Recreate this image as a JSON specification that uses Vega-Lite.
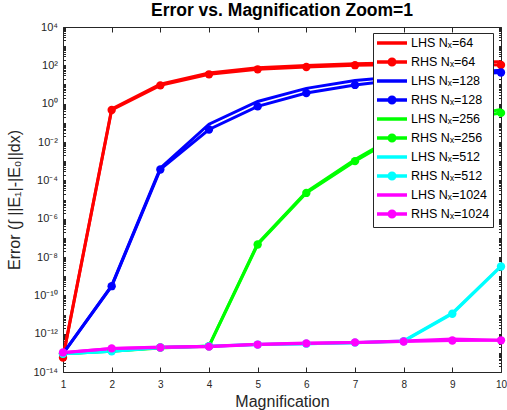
{
  "$schema": "https://vega.github.io/schema/vega-lite/v6.json",
  "width": 438,
  "height": 345,
  "autosize": {"type": "none"},
  "padding": {"left": 63, "top": 27, "right": 6, "bottom": 38},
  "background": "white",
  "title": {"text": "Error vs. Magnification Zoom=1", "font": "Liberation Sans", "fontSize": 17.5, "fontWeight": "bold", "color": "black", "anchor": "middle", "offset": 2},
  "config": {
    "view": {"stroke": "#262626", "strokeWidth": 1},
    "axis": {"grid": false, "domain": false, "labelFont": "Liberation Sans", "titleFont": "Liberation Sans", "labelColor": "#262626", "titleColor": "#262626", "tickColor": "#262626", "titleFontWeight": "normal"}
  },
  "data": {"values": [
    {"mag": 1, "series": "LHS Nₓ=64", "side": "LHS", "err": 6e-14},
    {"mag": 2, "series": "LHS Nₓ=64", "side": "LHS", "err": 0.52},
    {"mag": 3, "series": "LHS Nₓ=64", "side": "LHS", "err": 10.5},
    {"mag": 4, "series": "LHS Nₓ=64", "side": "LHS", "err": 40},
    {"mag": 5, "series": "LHS Nₓ=64", "side": "LHS", "err": 74},
    {"mag": 6, "series": "LHS Nₓ=64", "side": "LHS", "err": 98},
    {"mag": 7, "series": "LHS Nₓ=64", "side": "LHS", "err": 122},
    {"mag": 8, "series": "LHS Nₓ=64", "side": "LHS", "err": 135},
    {"mag": 9, "series": "LHS Nₓ=64", "side": "LHS", "err": 145},
    {"mag": 10, "series": "LHS Nₓ=64", "side": "LHS", "err": 155},
    {"mag": 1, "series": "RHS Nₓ=64", "side": "RHS", "err": 5.6e-14},
    {"mag": 2, "series": "RHS Nₓ=64", "side": "RHS", "err": 0.47},
    {"mag": 3, "series": "RHS Nₓ=64", "side": "RHS", "err": 9.0},
    {"mag": 4, "series": "RHS Nₓ=64", "side": "RHS", "err": 34},
    {"mag": 5, "series": "RHS Nₓ=64", "side": "RHS", "err": 62},
    {"mag": 6, "series": "RHS Nₓ=64", "side": "RHS", "err": 82},
    {"mag": 7, "series": "RHS Nₓ=64", "side": "RHS", "err": 102},
    {"mag": 8, "series": "RHS Nₓ=64", "side": "RHS", "err": 112},
    {"mag": 9, "series": "RHS Nₓ=64", "side": "RHS", "err": 118},
    {"mag": 10, "series": "RHS Nₓ=64", "side": "RHS", "err": 105},
    {"mag": 1, "series": "LHS Nₓ=128", "side": "LHS", "err": 9e-14},
    {"mag": 2, "series": "LHS Nₓ=128", "side": "LHS", "err": 3.2e-10},
    {"mag": 3, "series": "LHS Nₓ=128", "side": "LHS", "err": 4.3e-4},
    {"mag": 4, "series": "LHS Nₓ=128", "side": "LHS", "err": 0.085},
    {"mag": 5, "series": "LHS Nₓ=128", "side": "LHS", "err": 1.3},
    {"mag": 6, "series": "LHS Nₓ=128", "side": "LHS", "err": 6.3},
    {"mag": 7, "series": "LHS Nₓ=128", "side": "LHS", "err": 16},
    {"mag": 8, "series": "LHS Nₓ=128", "side": "LHS", "err": 27},
    {"mag": 9, "series": "LHS Nₓ=128", "side": "LHS", "err": 38},
    {"mag": 10, "series": "LHS Nₓ=128", "side": "LHS", "err": 55},
    {"mag": 1, "series": "RHS Nₓ=128", "side": "RHS", "err": 9e-14},
    {"mag": 2, "series": "RHS Nₓ=128", "side": "RHS", "err": 3.0e-10},
    {"mag": 3, "series": "RHS Nₓ=128", "side": "RHS", "err": 3.7e-4},
    {"mag": 4, "series": "RHS Nₓ=128", "side": "RHS", "err": 0.045},
    {"mag": 5, "series": "RHS Nₓ=128", "side": "RHS", "err": 0.72},
    {"mag": 6, "series": "RHS Nₓ=128", "side": "RHS", "err": 3.6},
    {"mag": 7, "series": "RHS Nₓ=128", "side": "RHS", "err": 9.5},
    {"mag": 8, "series": "RHS Nₓ=128", "side": "RHS", "err": 19},
    {"mag": 9, "series": "RHS Nₓ=128", "side": "RHS", "err": 30},
    {"mag": 10, "series": "RHS Nₓ=128", "side": "RHS", "err": 42},
    {"mag": 1, "series": "LHS Nₓ=256", "side": "LHS", "err": 9e-14},
    {"mag": 2, "series": "LHS Nₓ=256", "side": "LHS", "err": 1.2e-13},
    {"mag": 3, "series": "LHS Nₓ=256", "side": "LHS", "err": 1.8e-13},
    {"mag": 4, "series": "LHS Nₓ=256", "side": "LHS", "err": 2.3e-13},
    {"mag": 5, "series": "LHS Nₓ=256", "side": "LHS", "err": 5e-8},
    {"mag": 6, "series": "LHS Nₓ=256", "side": "LHS", "err": 2.5e-5},
    {"mag": 7, "series": "LHS Nₓ=256", "side": "LHS", "err": 1.2e-3},
    {"mag": 8, "series": "LHS Nₓ=256", "side": "LHS", "err": 0.035},
    {"mag": 9, "series": "LHS Nₓ=256", "side": "LHS", "err": 0.17},
    {"mag": 10, "series": "LHS Nₓ=256", "side": "LHS", "err": 0.5},
    {"mag": 1, "series": "RHS Nₓ=256", "side": "RHS", "err": 9e-14},
    {"mag": 2, "series": "RHS Nₓ=256", "side": "RHS", "err": 1.3e-13},
    {"mag": 3, "series": "RHS Nₓ=256", "side": "RHS", "err": 1.9e-13},
    {"mag": 4, "series": "RHS Nₓ=256", "side": "RHS", "err": 2.2e-13},
    {"mag": 5, "series": "RHS Nₓ=256", "side": "RHS", "err": 4.5e-8},
    {"mag": 6, "series": "RHS Nₓ=256", "side": "RHS", "err": 2.2e-5},
    {"mag": 7, "series": "RHS Nₓ=256", "side": "RHS", "err": 1.0e-3},
    {"mag": 8, "series": "RHS Nₓ=256", "side": "RHS", "err": 0.03},
    {"mag": 9, "series": "RHS Nₓ=256", "side": "RHS", "err": 0.14},
    {"mag": 10, "series": "RHS Nₓ=256", "side": "RHS", "err": 0.33},
    {"mag": 1, "series": "LHS Nₓ=512", "side": "LHS", "err": 9e-14},
    {"mag": 2, "series": "LHS Nₓ=512", "side": "LHS", "err": 1.2e-13},
    {"mag": 3, "series": "LHS Nₓ=512", "side": "LHS", "err": 1.9e-13},
    {"mag": 4, "series": "LHS Nₓ=512", "side": "LHS", "err": 2.2e-13},
    {"mag": 5, "series": "LHS Nₓ=512", "side": "LHS", "err": 2.7e-13},
    {"mag": 6, "series": "LHS Nₓ=512", "side": "LHS", "err": 3.0e-13},
    {"mag": 7, "series": "LHS Nₓ=512", "side": "LHS", "err": 3.4e-13},
    {"mag": 8, "series": "LHS Nₓ=512", "side": "LHS", "err": 4.2e-13},
    {"mag": 9, "series": "LHS Nₓ=512", "side": "LHS", "err": 1.2e-11},
    {"mag": 10, "series": "LHS Nₓ=512", "side": "LHS", "err": 3.4e-9},
    {"mag": 1, "series": "RHS Nₓ=512", "side": "RHS", "err": 9e-14},
    {"mag": 2, "series": "RHS Nₓ=512", "side": "RHS", "err": 1.2e-13},
    {"mag": 3, "series": "RHS Nₓ=512", "side": "RHS", "err": 1.9e-13},
    {"mag": 4, "series": "RHS Nₓ=512", "side": "RHS", "err": 2.2e-13},
    {"mag": 5, "series": "RHS Nₓ=512", "side": "RHS", "err": 2.7e-13},
    {"mag": 6, "series": "RHS Nₓ=512", "side": "RHS", "err": 3.0e-13},
    {"mag": 7, "series": "RHS Nₓ=512", "side": "RHS", "err": 3.4e-13},
    {"mag": 8, "series": "RHS Nₓ=512", "side": "RHS", "err": 4.0e-13},
    {"mag": 9, "series": "RHS Nₓ=512", "side": "RHS", "err": 1.1e-11},
    {"mag": 10, "series": "RHS Nₓ=512", "side": "RHS", "err": 3.2e-9},
    {"mag": 1, "series": "LHS Nₓ=1024", "side": "LHS", "err": 1.0e-13},
    {"mag": 2, "series": "LHS Nₓ=1024", "side": "LHS", "err": 1.7e-13},
    {"mag": 3, "series": "LHS Nₓ=1024", "side": "LHS", "err": 2.0e-13},
    {"mag": 4, "series": "LHS Nₓ=1024", "side": "LHS", "err": 2.2e-13},
    {"mag": 5, "series": "LHS Nₓ=1024", "side": "LHS", "err": 2.8e-13},
    {"mag": 6, "series": "LHS Nₓ=1024", "side": "LHS", "err": 3.3e-13},
    {"mag": 7, "series": "LHS Nₓ=1024", "side": "LHS", "err": 3.5e-13},
    {"mag": 8, "series": "LHS Nₓ=1024", "side": "LHS", "err": 4.1e-13},
    {"mag": 9, "series": "LHS Nₓ=1024", "side": "LHS", "err": 5.3e-13},
    {"mag": 10, "series": "LHS Nₓ=1024", "side": "LHS", "err": 4.6e-13},
    {"mag": 1, "series": "RHS Nₓ=1024", "side": "RHS", "err": 1.05e-13},
    {"mag": 2, "series": "RHS Nₓ=1024", "side": "RHS", "err": 1.7e-13},
    {"mag": 3, "series": "RHS Nₓ=1024", "side": "RHS", "err": 1.9e-13},
    {"mag": 4, "series": "RHS Nₓ=1024", "side": "RHS", "err": 2.1e-13},
    {"mag": 5, "series": "RHS Nₓ=1024", "side": "RHS", "err": 2.7e-13},
    {"mag": 6, "series": "RHS Nₓ=1024", "side": "RHS", "err": 3.1e-13},
    {"mag": 7, "series": "RHS Nₓ=1024", "side": "RHS", "err": 3.5e-13},
    {"mag": 8, "series": "RHS Nₓ=1024", "side": "RHS", "err": 3.9e-13},
    {"mag": 9, "series": "RHS Nₓ=1024", "side": "RHS", "err": 4.4e-13},
    {"mag": 10, "series": "RHS Nₓ=1024", "side": "RHS", "err": 4.5e-13}
  ]},
  "layer": [
    {
      "mark": {"type": "line", "strokeWidth": 3},
      "encoding": {
        "x": {"field": "mag", "type": "quantitative", "scale": {"domain": [1, 10], "nice": false, "zero": false},
          "axis": {"orient": "bottom", "values": [1,2,3,4,5,6,7,8,9,10], "format": "d", "tickSize": -5, "labelPadding": 12, "labelFontSize": 10, "labelFlush": false, "title": "Magnification", "titleFontSize": 16, "titlePadding": 4}},
        "y": {"field": "err", "type": "quantitative", "scale": {"type": "log", "domain": [1e-14, 10000], "nice": false},
          "axis": {"orient": "left",
            "values": [1e-14,2e-14,3e-14,4e-14,5e-14,6e-14,7e-14,8e-14,9e-14,1e-13,2e-13,3e-13,4e-13,5e-13,6e-13,7e-13,8e-13,9e-13,1e-12,2e-12,3e-12,4e-12,5e-12,6e-12,7e-12,8e-12,9e-12,1e-11,2e-11,3e-11,4e-11,5e-11,6e-11,7e-11,8e-11,9e-11,1e-10,2e-10,3e-10,4e-10,5e-10,6e-10,7e-10,8e-10,9e-10,1e-9,2e-9,3e-9,4e-9,5e-9,6e-9,7e-9,8e-9,9e-9,1e-8,2e-8,3e-8,4e-8,5e-8,6e-8,7e-8,8e-8,9e-8,1e-7,2e-7,3e-7,4e-7,5e-7,6e-7,7e-7,8e-7,9e-7,1e-6,2e-6,3e-6,4e-6,5e-6,6e-6,7e-6,8e-6,9e-6,1e-5,2e-5,3e-5,4e-5,5e-5,6e-5,7e-5,8e-5,9e-5,1e-4,2e-4,3e-4,4e-4,5e-4,6e-4,7e-4,8e-4,9e-4,0.001,0.002,0.003,0.004,0.005,0.006,0.007,0.008,0.009,0.01,0.02,0.03,0.04,0.05,0.06,0.07,0.08,0.09,0.1,0.2,0.3,0.4,0.5,0.6,0.7,0.8,0.9,1,2,3,4,5,6,7,8,9,10,20,30,40,50,60,70,80,90,100,200,300,400,500,600,700,800,900,1000,2000,3000,4000,5000,6000,7000,8000,9000,10000],
            "tickSize": -2.5, "labelPadding": 8, "labelFontSize": 11, "labelOverlap": false, "labelFlush": false,
            "labelExpr": "abs(log(datum.value)/LN10 - round(log(datum.value)/LN10)) > 0.01 || round(log(datum.value)/LN10) % 2 != 0 ? '' : '10' + ['⁻¹⁴','⁻¹²','⁻¹⁰','⁻⁸','⁻⁶','⁻⁴','⁻²','⁰','²','⁴'][(round(log(datum.value)/LN10)+14)/2]",
            "encode": {"ticks": {"update": {"x2": {"signal": "abs(log(datum.value)/LN10 - round(log(datum.value)/LN10)) < 0.01 ? 5 : 2.5"}}}},
            "title": "Error (∫ ||E₁|-|E₀||dx)", "titleFontSize": 16, "titlePadding": 10}},
        "color": {"field": "series", "type": "nominal",
          "scale": {"domain": ["LHS Nₓ=64", "RHS Nₓ=64", "LHS Nₓ=128", "RHS Nₓ=128", "LHS Nₓ=256", "RHS Nₓ=256", "LHS Nₓ=512", "RHS Nₓ=512", "LHS Nₓ=1024", "RHS Nₓ=1024"],
            "range": ["#ff0000", "#ff0000", "#0000ff", "#0000ff", "#00ff00", "#00ff00", "#00ffff", "#00ffff", "#ff00ff", "#ff00ff"]},
          "legend": {"title": null, "orient": "none", "legendX": 310, "legendY": 6, "strokeColor": "#262626", "fillColor": "white", "padding": 3,
            "labelFont": "Liberation Sans", "labelFontSize": 12.5, "labelColor": "black", "labelOffset": 21,
            "symbolSize": 100, "symbolStrokeWidth": 3.5, "symbolType": "M-1,0H1", "rowPadding": -3,
            "encode": {"symbols": {"update": {
              "shape": {"signal": "datum.value > 'M' ? 'M-1.2,0H4.8M2.35,0A0.55,0.55,0,1,1,1.25,0A0.55,0.55,0,1,1,2.35,0Z' : 'M-1.2,0H4.8M1.8,-0.9L1.8,-0.9M1.8,0.9L1.8,0.9'"},
              "fill": {"signal": "datum.value > 'M' ? scale('color', datum.value) : 'transparent'"},
              "stroke": {"signal": "scale('color', datum.value)"}
            }}}}}
      }
    },
    {
      "transform": [{"filter": "datum.side == 'RHS'"}],
      "mark": {"type": "point", "filled": true, "size": 70, "opacity": 1},
      "encoding": {
        "x": {"field": "mag", "type": "quantitative",
          "axis": {"orient": "top", "values": [1,2,3,4,5,6,7,8,9,10], "tickSize": -5, "labels": false, "title": null}},
        "y": {"field": "err", "type": "quantitative",
          "axis": {"orient": "right",
            "values": [1e-14,2e-14,3e-14,4e-14,5e-14,6e-14,7e-14,8e-14,9e-14,1e-13,2e-13,3e-13,4e-13,5e-13,6e-13,7e-13,8e-13,9e-13,1e-12,2e-12,3e-12,4e-12,5e-12,6e-12,7e-12,8e-12,9e-12,1e-11,2e-11,3e-11,4e-11,5e-11,6e-11,7e-11,8e-11,9e-11,1e-10,2e-10,3e-10,4e-10,5e-10,6e-10,7e-10,8e-10,9e-10,1e-9,2e-9,3e-9,4e-9,5e-9,6e-9,7e-9,8e-9,9e-9,1e-8,2e-8,3e-8,4e-8,5e-8,6e-8,7e-8,8e-8,9e-8,1e-7,2e-7,3e-7,4e-7,5e-7,6e-7,7e-7,8e-7,9e-7,1e-6,2e-6,3e-6,4e-6,5e-6,6e-6,7e-6,8e-6,9e-6,1e-5,2e-5,3e-5,4e-5,5e-5,6e-5,7e-5,8e-5,9e-5,1e-4,2e-4,3e-4,4e-4,5e-4,6e-4,7e-4,8e-4,9e-4,0.001,0.002,0.003,0.004,0.005,0.006,0.007,0.008,0.009,0.01,0.02,0.03,0.04,0.05,0.06,0.07,0.08,0.09,0.1,0.2,0.3,0.4,0.5,0.6,0.7,0.8,0.9,1,2,3,4,5,6,7,8,9,10,20,30,40,50,60,70,80,90,100,200,300,400,500,600,700,800,900,1000,2000,3000,4000,5000,6000,7000,8000,9000,10000],
            "tickSize": -2.5, "labels": false, "title": null,
            "encode": {"ticks": {"update": {"x2": {"signal": "abs(log(datum.value)/LN10 - round(log(datum.value)/LN10)) < 0.01 ? -5 : -2.5"}}}}}},
        "color": {"field": "series", "type": "nominal"}
      }
    }
  ],
  "resolve": {"axis": {"x": "independent", "y": "independent"}}
}
